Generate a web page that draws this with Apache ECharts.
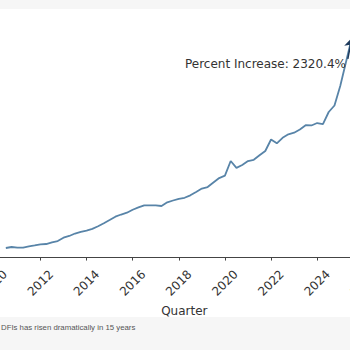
<!DOCTYPE html>
<html>
<head>
    <meta charset="utf-8">
    <script type="text/javascript" src="https://cdn.jsdelivr.net/npm/echarts@6/dist/echarts.min.js"></script>
</head>
<body style="margin:0; background-color:#f6f6f6">
<div id="main" style="width:350px; height:350px;"></div>
<script type="text/javascript">
    // quarterly index, first quarter = 100
    var quarters = [
        '2010 Q3', '2010 Q4',
        '2011 Q1', '2011 Q2', '2011 Q3', '2011 Q4',
        '2012 Q1', '2012 Q2', '2012 Q3', '2012 Q4',
        '2013 Q1', '2013 Q2', '2013 Q3', '2013 Q4',
        '2014 Q1', '2014 Q2', '2014 Q3', '2014 Q4',
        '2015 Q1', '2015 Q2', '2015 Q3', '2015 Q4',
        '2016 Q1', '2016 Q2', '2016 Q3', '2016 Q4',
        '2017 Q1', '2017 Q2', '2017 Q3', '2017 Q4',
        '2018 Q1', '2018 Q2', '2018 Q3', '2018 Q4',
        '2019 Q1', '2019 Q2', '2019 Q3', '2019 Q4',
        '2020 Q1', '2020 Q2', '2020 Q3', '2020 Q4',
        '2021 Q1', '2021 Q2', '2021 Q3', '2021 Q4',
        '2022 Q1', '2022 Q2', '2022 Q3', '2022 Q4',
        '2023 Q1', '2023 Q2', '2023 Q3', '2023 Q4',
        '2024 Q1', '2024 Q2', '2024 Q3', '2024 Q4',
        '2025 Q1', '2025 Q2', '2025 Q3'
    ];
    var values = [
        100, 111, 105, 104, 119, 128, 141, 144, 163, 177,
        214, 233, 260, 279, 293, 312, 340, 373, 409, 446,
        470, 490, 523, 548, 572, 572, 571, 564, 605, 625,
        644, 655, 682, 719, 757, 774, 824, 873, 899, 1061,
        986, 1017, 1061, 1075, 1124, 1172, 1299, 1257, 1318, 1356,
        1374, 1409, 1457, 1454, 1481, 1470, 1603, 1675, 1890, 2155,
        2420.4
    ];
    var yearTicks = [2010, 2026];
    var caption = 'DFIs has risen dramatically in 15 years';

    function quarterToYear(q) {
        var parts = q.split(' Q');
        return parseInt(parts[0], 10) + (parseInt(parts[1], 10) - 1) / 4;
    }

    var points = quarters.map(function (q, i) { return [quarterToYear(q), values[i]]; });
    var last = points[points.length - 1];
    var pct = (values[values.length - 1] - values[0]) / values[0] * 100;

    var myChart = echarts.init(document.getElementById('main'), null, {renderer: 'svg'});
    var option = {
        animation: false,
        textStyle: {fontFamily: 'DejaVu Sans'},
        graphic: [
            {type: 'rect', z: -10, silent: true, shape: {x: 0, y: 9, width: 350, height: 308}, style: {fill: '#ffffff'}},
            {type: 'text', left: 1, top: 323, silent: true,
             style: {text: caption, fontSize: 7.8, fill: '#555', fontFamily: 'Liberation Sans'}}
        ],
        grid: {left: -5.7, right: -13.3, top: 10, bottom: 90, containLabel: false, outerBoundsMode: 'none'},
        xAxis: {
            type: 'value',
            min: yearTicks[0],
            max: yearTicks[1],
            interval: 2,
            splitLine: {show: false},
            axisLine: {lineStyle: {color: '#444', width: 1}},
            axisTick: {show: true, length: 3.5, lineStyle: {color: '#444'}},
            axisLabel: {
                rotate: 45, align: 'center', verticalAlign: 'middle', margin: 23,
                fontSize: 12, color: '#333',
                formatter: function (v) { return String(v); }
            },
            name: 'Quarter',
            nameLocation: 'middle',
            nameGap: 41,
            nameTextStyle: {fontSize: 12, color: '#333', padding: [0, 0, 0, 11]}
        },
        yAxis: {
            type: 'value', show: false, min: -32.6, max: 2730,
            splitLine: {show: false}
        },
        series: [{
            type: 'line',
            data: points,
            showSymbol: false,
            lineStyle: {color: '#5884a8', width: 1.8},
            itemStyle: {color: '#5884a8'},
            markLine: {
                silent: true,
                symbol: ['none', 'arrow'],
                symbolSize: 9,
                label: {show: false},
                lineStyle: {color: '#1f3b5c', width: 1.5, type: 'solid'},
                data: [[{coord: [2025.33, 2190]}, {coord: last}]]
            },
            markPoint: {
                silent: true,
                symbol: 'circle',
                symbolSize: 0,
                data: [{
                    coord: [2025.335, 2133],
                    label: {
                        show: true, position: 'left', distance: 2,
                        fontSize: 12, color: '#333',
                        formatter: 'Percent Increase: ' + pct.toFixed(1) + '%'
                    }
                }]
            }
        }]
    };
    myChart.setOption(option);
</script>
</body>
</html>
